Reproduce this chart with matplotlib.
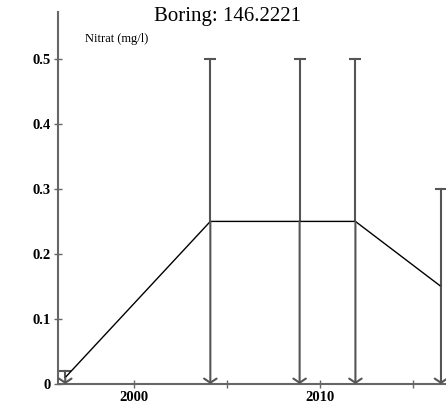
import matplotlib
matplotlib.use("Agg")
import matplotlib.pyplot as plt

years = [1996.3, 2004.1, 2008.9, 2011.9, 2016.5]
values = [0.01, 0.25, 0.25, 0.25, 0.15]
upper = [0.02, 0.5, 0.5, 0.5, 0.3]
xtick_pos = [1995, 2000, 2005, 2010, 2015]
xtick_labels = ["", "2000", "", "2010", ""]
ytick_pos = [0, 0.1, 0.2, 0.3, 0.4, 0.5]
ytick_labels = ["0", "0.1", "0.2", "0.3", "0.4", "0.5"]

W, H = 446, 404
fig = plt.figure(figsize=(W / 100, H / 100), dpi=100)
ax = fig.add_axes([58 / W, 20 / H, 388 / W, 372 / H])
serif = ["Liberation Serif", "DejaVu Serif"]
axcol = "#666666"
barcol = "#555555"

ax.plot(years, values, color="black", lw=1.0, zorder=3)
for x, v, u in zip(years, values, upper):
    ax.plot([x, x], [v, u], color=barcol, lw=1.5, clip_on=False, zorder=2)
    ax.plot([x], [u], marker="_", markersize=9, mew=1.5, color=barcol, clip_on=False)
    ax.annotate("", xy=(x, 0), xytext=(x, v),
                arrowprops=dict(arrowstyle="->,head_length=0.3,head_width=0.45",
                                color=barcol, lw=1.5, shrinkA=0, shrinkB=0),
                annotation_clip=False)

ax.set_xlim(1995.91, 2016.77)
ax.set_ylim(0, 0.572)
for s in ["top", "right"]:
    ax.spines[s].set_visible(False)
for s in ["left", "bottom"]:
    ax.spines[s].set_color(axcol)
    ax.spines[s].set_linewidth(1.5)
ax.set_xticks(xtick_pos)
ax.set_xticklabels(xtick_labels, fontfamily=serif, fontweight="bold", fontsize=10.5)
ax.set_yticks(ytick_pos)
ax.set_yticklabels(ytick_labels, fontfamily=serif, fontweight="bold", fontsize=10.5)
ax.tick_params(axis="both", direction="inout", length=6, width=1, color=axcol, pad=2)
ax.set_xlim(1995.91, 2016.77)

fig.text(227 / W, 1 - 17 / H, "Boring: 146.2221", ha="center", va="center",
         fontfamily=serif, fontsize=15)
fig.text(85 / W, 1 - 39 / H, "Nitrat (mg/l)", ha="left", va="center",
         fontfamily=serif, fontsize=9)

fig.savefig("out.png", dpi=100)
